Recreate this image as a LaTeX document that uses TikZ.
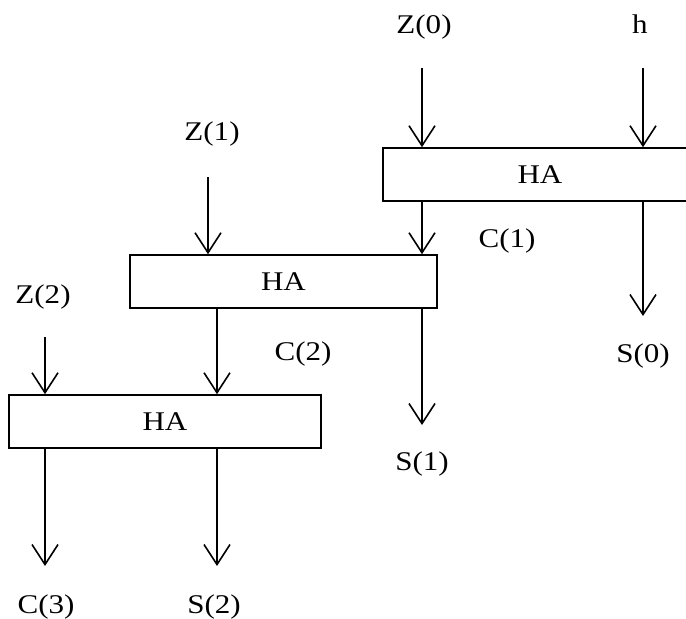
\documentclass[tikz,border=0pt]{standalone}
\usepackage{fontspec}
\setmainfont{Liberation Serif}[FakeStretch=1.15]
\usetikzlibrary{arrows.meta}
\begin{document}
\begin{tikzpicture}[x=1pt,y=-1pt,
  every node/.style={font=\fontsize{27}{30}\selectfont, inner sep=0pt},
  lbl/.style={anchor=base},
  habox/.style={draw, line width=1.6pt, minimum height=53pt, text depth=0pt},
  wire/.style={line width=1.6pt, -{Straight Barb[length=20pt,width=26pt,line width=1.6pt]}},
  plain/.style={line width=1.6pt}]
\useasboundingbox (0,0) rectangle (686,619);
\clip (0,0) rectangle (686,619);
% boxes
\node[habox, minimum width=314pt] (b1) at (540,174.5) {HA};
\node[habox, minimum width=307pt] (b2) at (283.5,281.5) {HA};
\node[habox, minimum width=312pt] (b3) at (165,421.5) {HA};
% labels
\node[lbl] (z0) at (424,33) {Z(0)};
\node[lbl] (h) at (640,33) {h};
\node[lbl] (z1) at (212,140) {Z(1)};
\node[lbl] (z2) at (43,303) {Z(2)};
\node[lbl] (c1) at (507,247) {C(1)};
\node[lbl] (c2) at (303,360) {C(2)};
\node[lbl] (s1) at (422,470) {S(1)};
\node[lbl] (s0) at (643,362) {S(0)};
\node[lbl] (c3) at (46,613) {C(3)};
\node[lbl] (s2) at (214,613) {S(2)};
% arrow start and end coordinates
\coordinate (a0) at (422,68);
\coordinate (ah) at (643,68);
\coordinate (a1) at (208,177);
\coordinate (a2) at (45,337);
\coordinate (t0) at (643,316);
\coordinate (t1) at (422,425);
\coordinate (t3) at (45,566);
\coordinate (t2) at (217,566);
% inputs
\draw[wire] (a0) -- (b1.north -| a0);
\draw[wire] (ah) -- (b1.north -| ah);
\draw[wire] (a1) -- (b2.north -| a1);
\draw[wire] (a2) -- (b3.north -| a2);
% carries / sums
\draw[wire] (b1.south -| a0) -- (b2.north -| a0);
\draw[wire] (b1.south -| ah) -- (t0);
\draw[wire] (b2.south -| t1) -- (t1);
\draw[wire] (b2.south -| t2) -- (b3.north -| t2);
\draw[wire] (b3.south -| t3) -- (t3);
\draw[wire] (b3.south -| t2) -- (t2);
\end{tikzpicture}
\end{document}
